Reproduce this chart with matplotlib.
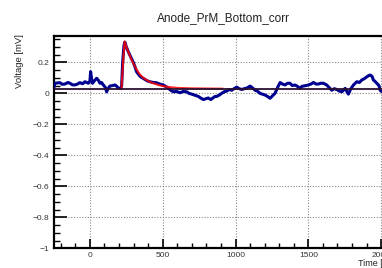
import numpy as np
import matplotlib
matplotlib.use('Agg')
import matplotlib.pyplot as plt
from matplotlib.ticker import MultipleLocator, FuncFormatter

plt.rcParams['font.family'] = ['Liberation Sans', 'DejaVu Sans']

# waveform (time in ns, voltage in mV)
time = [-248, -240, -206, -190, -172, -150, -137, -120, -103, -85, -69, -50, -34, -11, 0, 5, 12, 18,
        30, 46, 58, 69, 80, 92, 105, 115, 125, 137, 155, 172, 185, 195, 211, 218, 225, 234, 240,
        250, 263, 275, 298, 310, 320, 332, 344, 360, 378, 395, 412, 435, 458, 480, 504, 520, 538,
        555, 573, 595, 619, 640, 665, 680, 699, 720, 745, 760, 779, 795, 813, 830, 859, 871, 890,
        905, 922, 940, 958, 974, 990, 1008, 1025, 1042, 1060, 1080, 1100, 1117, 1134, 1150, 1168,
        1185, 1203, 1220, 1237, 1255, 1271, 1290, 1306, 1322, 1340, 1357, 1374, 1390, 1409, 1425,
        1443, 1455, 1466, 1483, 1500, 1518, 1535, 1552, 1569, 1585, 1604, 1626, 1645, 1661, 1678,
        1695, 1712, 1730, 1753, 1765, 1775, 1792, 1810, 1833, 1850, 1867, 1885, 1902, 1915, 1925,
        1937, 1947, 1960, 1970, 1985, 1993, 2007, 2020, 2040]
voltage = [0.035, 0.065, 0.069, 0.058, 0.06, 0.07, 0.065, 0.055, 0.054, 0.06, 0.069, 0.062, 0.075,
           0.065, 0.08, 0.14, 0.09, 0.065, 0.08, 0.097, 0.085, 0.065, 0.07, 0.054, 0.04, 0.01, 0.03,
           0.047, 0.05, 0.054, 0.045, 0.032, 0.032, 0.05, 0.2, 0.31, 0.33, 0.3, 0.27, 0.245, 0.2,
           0.17, 0.14, 0.125, 0.11, 0.1, 0.09, 0.08, 0.075, 0.07, 0.068, 0.06, 0.054, 0.045, 0.032,
           0.02, 0.01, 0.012, 0.004, 0.012, 0.01, 0.0, -0.005, -0.012, -0.02, -0.03, -0.04, -0.035,
           -0.03, -0.04, -0.02, -0.02, -0.01, 0.0, 0.01, 0.015, 0.025, 0.02, 0.03, 0.04, 0.03, 0.025,
           0.03, 0.035, 0.047, 0.035, 0.02, 0.015, 0.0, -0.005, -0.011, -0.02, -0.032, -0.015, 0.0,
           0.04, 0.07, 0.06, 0.054, 0.065, 0.065, 0.05, 0.054, 0.045, 0.032, 0.045, 0.047, 0.05,
           0.054, 0.06, 0.07, 0.06, 0.06, 0.065, 0.065, 0.054, 0.035, 0.02, 0.03, 0.025, 0.015, 0.01,
           0.032, 0.01, -0.005, 0.03, 0.054, 0.075, 0.07, 0.086, 0.095, 0.107, 0.115, 0.118, 0.11,
           0.086, 0.075, 0.065, 0.05, 0.02, 0.01, 0.0, 0.01]

# fitted pulse
fit_time = [217, 228, 238, 250, 265, 280, 300, 320, 340, 360, 385, 410, 440, 470, 500, 550, 600,
            700, 800, 910]
fit_volt = [0.03, 0.2, 0.335, 0.30, 0.265, 0.23, 0.19, 0.155, 0.125, 0.105, 0.088, 0.075, 0.063,
            0.054, 0.047, 0.04, 0.035, 0.032, 0.031, 0.03]

baseline = 0.03

fig = plt.figure(figsize=(3.82, 2.68), dpi=100)
ax = fig.add_axes([53.5 / 382, 19.7 / 268, (403 - 53.5) / 382, (248.3 - 36) / 268])

ax.plot(time, voltage, color='#000090', lw=2.2, zorder=3)
ax.plot(fit_time, fit_volt, color='red', lw=1.5, alpha=0.85, zorder=4)
ax.axhline(baseline, color='#2a1030', lw=1.3, zorder=5)

ax.set_xlim(-250, 2150)
ax.set_ylim(-1, 0.37)

ax.xaxis.set_major_locator(MultipleLocator(500))
ax.xaxis.set_minor_locator(MultipleLocator(100))
ax.yaxis.set_major_locator(MultipleLocator(0.2))
ax.yaxis.set_minor_locator(MultipleLocator(0.05))

fmt = FuncFormatter(lambda v, p: ('%g' % round(v, 3)).replace('-', '\u2212'))
ax.xaxis.set_major_formatter(fmt)
ax.yaxis.set_major_formatter(fmt)

ax.tick_params(which='both', direction='in', labelsize=6, colors='black', labelcolor='#333333')
ax.tick_params(axis='y', which='major', length=9, width=1.2, pad=3)
ax.tick_params(axis='y', which='minor', length=4.5, width=1)
ax.tick_params(axis='x', which='major', length=6.5, width=1.2, pad=3)
ax.tick_params(axis='x', which='minor', length=3.5, width=1)

ax.grid(True, which='major', color='#888888', ls=(0, (1, 1.5)), lw=0.8)
for s in ax.spines.values():
    s.set_linewidth(1.6)

fig.text(223 / 382, 1 - 18 / 268, 'Anode_PrM_Bottom_corr', ha='center', va='center',
         fontsize=8.5, color='#222222')
fig.text(20 / 382, 1 - 34 / 268, 'Voltage [mV]', rotation=90, ha='center', va='top',
         fontsize=6.8, color='#222222')
fig.text(358 / 382, 1 - 263 / 268, 'Time [ns]', ha='left', va='center', fontsize=6.5,
         color='#222222')

fig.savefig('out.png', dpi=100)
